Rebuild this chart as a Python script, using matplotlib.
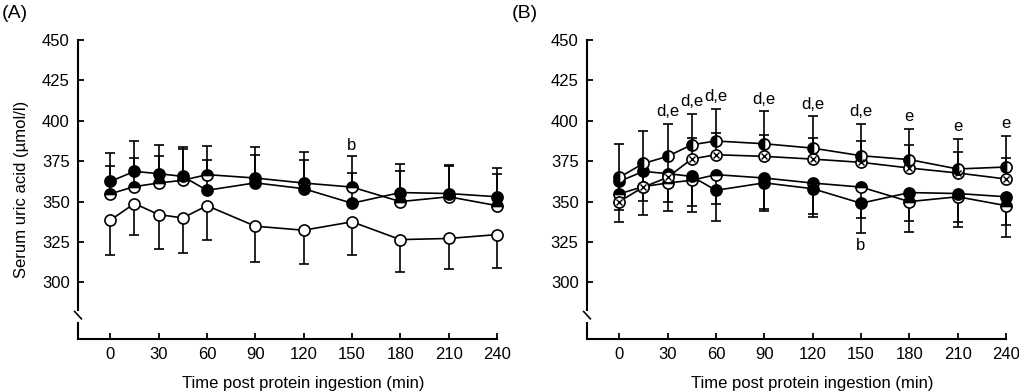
import numpy as np
import matplotlib
matplotlib.use('Agg')
import matplotlib.pyplot as plt

plt.rcParams['font.family'] = ['Liberation Sans', 'DejaVu Sans']
plt.rcParams['font.size'] = 12

# --- data ---
time_min = [0, 15, 30, 45, 60, 90, 120, 150, 180, 210, 240]
xticks = [0, 30, 60, 90, 120, 150, 180, 210, 240]
yticks = [300, 325, 350, 375, 400, 425, 450]

solid_mean = [362.5, 368.7, 367.3, 365.6, 357.0, 361.6, 358.0, 349.0, 355.6, 355.0, 353.0]
solid_sd = [17.5, 18.5, 17.6, 18.2, 19.0, 17.4, 17.5, 18.7, 17.5, 17.5, 17.5]

tophalf_mean = [354.8, 359.3, 361.5, 363.2, 366.7, 364.6, 361.5, 359.0, 350.0, 353.0, 347.5]
tophalf_sd = [17.5, 17.5, 17.0, 19.5, 18.0, 19.2, 19.0, 19.0, 19.0, 19.0, 19.5]

open_mean = [338.5, 348.8, 342.0, 339.9, 347.5, 334.8, 332.3, 337.5, 326.5, 327.2, 329.6]
open_sd = [21.6, 19.2, 21.6, 21.9, 21.0, 22.0, 20.8, 20.6, 20.1, 18.8, 20.6]

lefthalf_mean = [365.0, 373.6, 378.0, 385.2, 387.5, 385.8, 383.1, 378.4, 376.0, 370.2, 371.4]
lefthalf_sd = [20.4, 19.8, 20.0, 19.3, 19.9, 20.0, 19.6, 19.7, 19.0, 18.7, 19.3]

cross_mean = [350.0, 359.0, 365.0, 376.4, 379.0, 378.0, 376.3, 374.3, 370.8, 367.7, 364.0]
cross_sd = [13.0, 13.0, 13.0, 12.9, 13.4, 13.0, 13.0, 12.9, 14.0, 13.3, 13.0]

# significance letters
sigA_time = [150]
sigA_text = ['b']
sigB_time = [30, 45, 60, 90, 120, 150, 180, 210, 240]
sigB_text = ['d,e', 'd,e', 'd,e', 'd,e', 'd,e', 'd,e', 'e', 'e', 'e']
sigB_low_time = [150]
sigB_low_text = ['b']

MS = 8.0
CAP = 7.7
LW = 1.2


def draw_series(ax, mean, sd, direction, mstyle, cross=False):
    y = np.array(mean)
    end = y + direction * np.array(sd)
    ax.vlines(time_min, y, end, colors='k', lw=LW, zorder=1, clip_on=False)
    ax.plot(time_min, end, ls='none', marker='_', ms=CAP, mew=LW, color='k', zorder=1, clip_on=False)
    ax.plot(time_min, y, '-', color='k', lw=LW, zorder=2, clip_on=False)
    ax.plot(time_min, y, ls='none', marker='o', ms=MS, mec='k', mew=1.2, zorder=3,
            clip_on=False, **mstyle)
    if cross:
        ax.plot(time_min, y, ls='none', marker='x', ms=MS * 0.6, mec='k', mew=1.0, zorder=4,
                clip_on=False)


def style_axes(ax):
    ax.set_xlim(-20, 240)
    ax.set_ylim(265, 450)
    ax.set_xticks(xticks)
    ax.set_yticks(yticks)
    for s in ['top', 'right']:
        ax.spines[s].set_visible(False)
    for s in ['left', 'bottom']:
        ax.spines[s].set_linewidth(1.5)
    ax.spines['left'].set_bounds(283, 450)
    ax.tick_params(direction='in', length=4.5, width=1.3, labelsize=12, pad=6)
    # axis break
    tr = ax.get_yaxis_transform()
    ax.plot([0, 0], [265, 275], color='k', lw=1.5, transform=tr, clip_on=False)
    ax.plot([-0.008, 0.008], [282, 277.5], color='k', lw=1.2, transform=tr, clip_on=False)
    ax.set_xlabel('Time post protein ingestion (min)', fontsize=12, labelpad=8)
    # label centred over the 0-240 range
    ax.xaxis.set_label_coords((120 + 20) / 260, -0.125)


fig = plt.figure(figsize=(10.2, 3.92), dpi=100)
axA = fig.add_axes([0.0765, 0.1352, 0.4108, 0.7628])
axB = fig.add_axes([0.5755, 0.1352, 0.4108, 0.7628])

solid = dict(mfc='k')
tophalf = dict(mfc='k', mfcalt='w', fillstyle='top')
lefthalf = dict(mfc='k', mfcalt='w', fillstyle='left')
hollow = dict(mfc='w')

# (A)
draw_series(axA, open_mean, open_sd, -1, hollow)
draw_series(axA, tophalf_mean, tophalf_sd, 1, tophalf)
draw_series(axA, solid_mean, solid_sd, 1, solid)
for t, s in zip(sigA_time, sigA_text):
    i = time_min.index(t)
    top = max(tophalf_mean[i] + tophalf_sd[i], solid_mean[i] + solid_sd[i])
    axA.text(t, top + 7, s, ha='center', va='center', fontsize=12)
style_axes(axA)
axA.set_ylabel('Serum uric acid (\u00b5mol/l)', fontsize=12, labelpad=9)

# (B)
draw_series(axB, tophalf_mean, tophalf_sd, -1, tophalf)
draw_series(axB, solid_mean, solid_sd, -1, solid)
draw_series(axB, cross_mean, cross_sd, 1, hollow, cross=True)
draw_series(axB, lefthalf_mean, lefthalf_sd, 1, lefthalf)
for t, s in zip(sigB_time, sigB_text):
    i = time_min.index(t)
    axB.text(t, lefthalf_mean[i] + lefthalf_sd[i] + 7.5, s, ha='center', va='center', fontsize=12)
for t, s in zip(sigB_low_time, sigB_low_text):
    i = time_min.index(t)
    axB.text(t, solid_mean[i] - solid_sd[i] - 7.5, s, ha='center', va='center', fontsize=12)
style_axes(axB)

fig.text(0.002, 0.988, '(A)', ha='left', va='top', fontsize=14)
fig.text(0.502, 0.988, '(B)', ha='left', va='top', fontsize=14)

fig.savefig('out.png', dpi=100)
